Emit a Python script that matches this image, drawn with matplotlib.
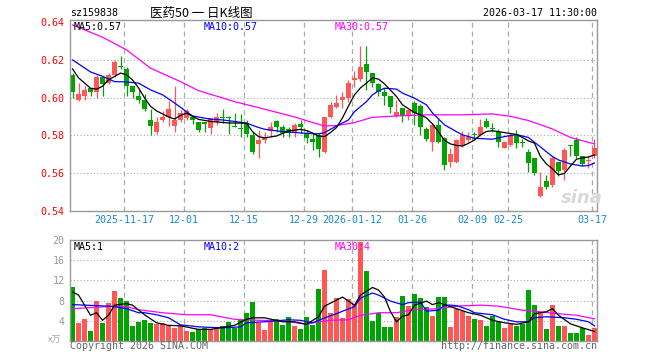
import numpy as np
import matplotlib
matplotlib.use("Agg")
import matplotlib.pyplot as plt

# daily candles (oldest first)
opens = [0.612, 0.599, 0.601, 0.605, 0.603, 0.611, 0.608, 0.612, 0.617, 0.615,
         0.606, 0.601, 0.599, 0.588, 0.582, 0.588, 0.590, 0.585, 0.588, 0.589,
         0.590, 0.587, 0.587, 0.584, 0.587, 0.590, 0.590, 0.5849, 0.584, 0.5865,
         0.580, 0.5755, 0.5776, 0.5825, 0.5877, 0.5843, 0.5833, 0.5815, 0.5861, 0.5812,
         0.578, 0.5803, 0.5714, 0.5896, 0.5953, 0.5988, 0.5997, 0.6094, 0.6098, 0.6179,
         0.613, 0.607, 0.6032, 0.6009, 0.5903, 0.5944, 0.5903, 0.5971, 0.5956, 0.5833,
         0.5767, 0.5856, 0.5785, 0.566, 0.566, 0.5744, 0.5774, 0.5805, 0.580, 0.5877,
         0.5835, 0.582, 0.5736, 0.575, 0.5803, 0.5762, 0.5714, 0.5679, 0.5479, 0.5561,
         0.5538, 0.5661, 0.5617, 0.5745, 0.5776, 0.5691, 0.5664, 0.5691]
highs = [0.613, 0.608, 0.606, 0.605, 0.612, 0.611, 0.613, 0.620, 0.622, 0.616,
         0.606, 0.604, 0.602, 0.594, 0.590, 0.593, 0.598, 0.606, 0.5935, 0.594,
         0.5905, 0.587, 0.587, 0.589, 0.592, 0.594, 0.5905, 0.592, 0.5915, 0.588,
         0.582, 0.583, 0.582, 0.587, 0.588, 0.5856, 0.5847, 0.5868, 0.5882, 0.5829,
         0.5815, 0.5815, 0.5896, 0.5975, 0.6015, 0.6032, 0.6094, 0.6143, 0.6274, 0.6274,
         0.613, 0.608, 0.605, 0.601, 0.5988, 0.5945, 0.594, 0.598, 0.5967, 0.5847,
         0.5865, 0.5886, 0.579, 0.5734, 0.578, 0.5825, 0.582, 0.582, 0.5886, 0.589,
         0.5865, 0.5833, 0.5773, 0.5812, 0.5829, 0.578, 0.5727, 0.568, 0.5608, 0.5591,
         0.5688, 0.5661, 0.5732, 0.5748, 0.5794, 0.5691, 0.5691, 0.578]
lows = [0.600, 0.598, 0.599, 0.601, 0.600, 0.601, 0.607, 0.611, 0.615, 0.601,
        0.600, 0.597, 0.593, 0.580, 0.581, 0.587, 0.585, 0.582, 0.587, 0.588,
        0.586, 0.582, 0.582, 0.581, 0.5855, 0.5865, 0.581, 0.5845, 0.579, 0.579,
        0.570, 0.568, 0.5762, 0.579, 0.582, 0.5794, 0.5794, 0.5794, 0.5812, 0.5759,
        0.5723, 0.5688, 0.5706, 0.589, 0.5946, 0.5944, 0.5979, 0.6059, 0.609, 0.6041,
        0.6055, 0.601, 0.596, 0.5918, 0.590, 0.5873, 0.5882, 0.5856, 0.580, 0.5773,
        0.5719, 0.5759, 0.5617, 0.5633, 0.5655, 0.5741, 0.5767, 0.5776, 0.5795, 0.584,
        0.582, 0.5741, 0.5732, 0.5744, 0.5732, 0.5739, 0.5608, 0.5591, 0.5473, 0.5515,
        0.5526, 0.5585, 0.5566, 0.569, 0.5679, 0.5638, 0.5626, 0.5679]
closes = [0.603, 0.602, 0.604, 0.603, 0.611, 0.607, 0.612, 0.619, 0.616, 0.606,
          0.603, 0.599, 0.594, 0.585, 0.587, 0.590, 0.594, 0.588, 0.592, 0.593,
          0.588, 0.583, 0.586, 0.589, 0.590, 0.589, 0.589, 0.5846, 0.5835, 0.581,
          0.5714, 0.5776, 0.5794, 0.5843, 0.5847, 0.5815, 0.5812, 0.5856, 0.5847, 0.5785,
          0.5767, 0.5727, 0.5896, 0.5962, 0.5971, 0.6006, 0.608, 0.6103, 0.6163, 0.6138,
          0.608, 0.603, 0.6011, 0.5949, 0.5926, 0.5903, 0.5935, 0.5918, 0.5845, 0.578,
          0.5856, 0.5765, 0.5644, 0.5702, 0.5776, 0.5803, 0.5794, 0.5803, 0.5847, 0.5847,
          0.5833, 0.5767, 0.5767, 0.5803, 0.5759, 0.576, 0.5653, 0.5603, 0.5526, 0.5526,
          0.5682, 0.5612, 0.5723, 0.5742, 0.5691, 0.5649, 0.5667, 0.5732]
# volume, in 万
volumes = [10.7, 3.6, 4.3, 1.9, 7.9, 3.6, 7.5, 9.9, 8.5, 7.9,
           3.0, 3.8, 4.1, 3.6, 3.4, 3.6, 3.2, 2.6, 3.1, 1.9,
           1.8, 2.3, 2.5, 2.3, 2.8, 3.0, 3.8, 2.5, 4.2, 5.6,
           7.7, 3.6, 2.1, 3.9, 4.4, 3.1, 4.7, 3.0, 2.3, 4.7,
           3.2, 10.3, 14.0, 5.6, 8.5, 4.6, 8.4, 7.4, 19.7, 13.8,
           4.0, 5.6, 2.7, 2.7, 4.8, 8.9, 6.9, 9.3, 8.5, 6.7,
           4.9, 8.7, 8.7, 2.7, 6.4, 5.9, 5.0, 4.4, 4.2, 2.9,
           4.9, 3.8, 2.5, 3.6, 2.9, 3.3, 10.1, 7.2, 5.8, 2.3,
           7.1, 2.9, 2.9, 1.6, 1.6, 2.5, 1.1, 2.5]

# moving averages (candle index, value)
ma5_idx = [0, 1, 3, 4, 5, 6, 8, 9, 10, 11, 12, 13, 14, 15, 16, 17, 18, 19, 20, 21,
           23, 26, 29, 30, 31, 32, 34, 36, 38, 39, 40, 41, 42, 43, 44, 45, 46, 47, 48, 49,
           50, 51, 52, 54, 55, 57, 58, 59, 60, 61, 62, 63, 64, 65, 66, 67, 68, 69, 70, 72,
           74, 75, 76, 77, 78, 79, 80, 81, 82, 83, 84, 85, 86, 87]
ma5_val = [0.6152, 0.6105, 0.605, 0.6045, 0.606, 0.6094, 0.613, 0.6121, 0.6094, 0.6052,
           0.5999, 0.5954, 0.593, 0.5914, 0.5898, 0.5887, 0.5906, 0.5918, 0.5901, 0.5885,
           0.5874, 0.5866, 0.5865, 0.582, 0.5794, 0.5787, 0.5797, 0.5824, 0.5832, 0.5826,
           0.5813, 0.5797, 0.5794, 0.5815, 0.5842, 0.5893, 0.5956, 0.6015, 0.6052, 0.6077,
           0.6105, 0.6098, 0.6073, 0.6006, 0.5962, 0.5921, 0.5909, 0.5893, 0.5861, 0.5819,
           0.5774, 0.5755, 0.5747, 0.5744, 0.5758, 0.5776, 0.5803, 0.5821, 0.5825, 0.5815,
           0.5805, 0.5789, 0.5771, 0.5759, 0.5688, 0.5649, 0.5623, 0.5591, 0.5599, 0.5638,
           0.5674, 0.5681, 0.5686, 0.5697]
ma10_idx = [0, 3, 5, 7, 9, 11, 13, 15, 17, 19, 20, 23, 25, 27, 29, 31, 32, 35, 39, 41,
            42, 44, 46, 47, 49, 50, 51, 52, 54, 55, 57, 59, 60, 62, 64, 65, 67, 70, 72, 74,
            76, 78, 80, 81, 83, 85, 86, 87]
ma10_val = [0.620, 0.6136, 0.6113, 0.6085, 0.6083, 0.6077, 0.6041, 0.6015, 0.5972, 0.5926,
            0.5903, 0.5886, 0.5882, 0.5874, 0.5865, 0.5842, 0.5833, 0.582, 0.5811, 0.5808,
            0.5815, 0.585, 0.5882, 0.5926, 0.5979, 0.6015, 0.6036, 0.605, 0.6045, 0.6024,
            0.5997, 0.5962, 0.5919, 0.5856, 0.582, 0.5803, 0.5785, 0.578, 0.5794, 0.5805,
            0.5789, 0.5739, 0.5688, 0.567, 0.5649, 0.5638, 0.5641, 0.5654]
ma30_idx = [0, 5, 9, 13, 18, 21, 27, 32, 37, 39, 42, 44, 47, 50, 54, 59, 65, 70, 73, 76,
            80, 83, 87]
ma30_val = [0.6385, 0.632, 0.6253, 0.6156, 0.6085, 0.6037, 0.5979, 0.5939, 0.5898, 0.5878,
            0.585, 0.5852, 0.5868, 0.5896, 0.5903, 0.5909, 0.5909, 0.5914, 0.5901, 0.5879,
            0.5834, 0.5789, 0.5755]

vma5_idx = [0, 1, 3, 4, 5, 6, 7, 9, 10, 12, 14, 16, 18, 21, 23, 27, 29, 30, 32, 35,
            37, 39, 41, 42, 43, 45, 47, 48, 50, 51, 52, 53, 54, 55, 56, 57, 59, 60, 61, 62,
            64, 66, 68, 70, 72, 74, 76, 77, 79, 80, 81, 83, 85, 87]
vma5_val = [9.7, 9.1, 5.1, 5.6, 4.1, 5.1, 7.1, 7.4, 7.1, 5.2, 3.6, 3.1, 3.0, 2.3, 2.3, 3.1,
            4.3, 4.6, 4.6, 3.8, 3.8, 3.3, 4.8, 6.9, 7.5, 8.7, 7.1, 9.1, 10.6, 10.1, 8.7, 5.8,
            3.8, 4.9, 5.2, 7.1, 7.9, 7.2, 7.6, 7.2, 6.4, 5.6, 5.1, 4.1, 3.6, 3.3, 3.8, 5.4,
            5.8, 6.4, 5.1, 3.4, 2.6, 1.9]
vma10_idx = [0, 6, 7, 9, 11, 12, 14, 16, 18, 21, 25, 28, 29, 32, 36, 38, 40, 41, 43, 44,
             45, 47, 48, 50, 51, 53, 55, 56, 58, 59, 61, 62, 63, 64, 66, 67, 70, 72, 74, 76,
             77, 79, 82, 84, 86, 87]
vma10_val = [7.2, 6.9, 6.8, 6.4, 5.6, 5.6, 5.2, 4.6, 3.2, 2.8, 2.6, 2.8, 3.6, 3.8, 4.2, 4.1,
             3.6, 4.1, 5.0, 5.4, 5.9, 6.8, 8.5, 9.5, 9.1, 7.9, 7.2, 7.6, 7.7, 5.9, 6.1, 7.1,
             7.1, 7.0, 6.2, 5.6, 5.2, 4.3, 3.8, 3.8, 4.6, 4.8, 4.6, 4.3, 3.8, 3.0]
vma30_idx = [0, 7, 9, 11, 15, 19, 23, 27, 31, 35, 39, 41, 43, 46, 48, 50, 51, 54, 57, 61,
             64, 68, 71, 75, 77, 81, 84, 87]
vma30_val = [6.4, 6.9, 6.8, 6.2, 5.6, 5.2, 5.2, 4.3, 4.1, 4.0, 3.3, 3.8, 4.1, 4.2, 5.1, 5.4,
             5.6, 5.6, 6.2, 6.4, 6.9, 7.1, 6.9, 6.1, 5.9, 5.4, 5.1, 4.4]

# date ticks: candle index -> label
date_idx = [9, 19, 29, 39, 47, 57, 67, 73, 87]
date_lbl = ["2025-11-17", "12-01", "12-15", "12-29", "2026-01-12",
            "01-26", "02-09", "02-25", "03-17"]
price_ticks = [0.54, 0.56, 0.58, 0.60, 0.62, 0.64]
vol_ticks = [4, 8, 12, 16, 20]

RED = "#ff5656"
GREEN = "#00a400"
GRID = "#aaaaaa"
MONO = "DejaVu Sans Mono"
CJK = ["Noto Sans CJK SC", "DejaVu Sans"]
W, H = 660, 360


def box(l, t, r, b):
    return [l / W, 1 - b / H, (r - l) / W, (b - t) / H]


def ftext(x, y, s, **kw):
    kw.setdefault("family", MONO)
    kw.setdefault("fontsize", 7.2)
    kw.setdefault("va", "center")
    fig.text(x / W, 1 - y / H, s, **kw)


o = np.array(opens)
c = np.array(closes)
x = np.arange(len(c))
cols = np.where(c >= o, RED, GREEN)

fig = plt.figure(figsize=(6.6, 3.6), dpi=100)
ax = fig.add_axes(box(70, 20, 597, 211))
axv = fig.add_axes(box(70, 240, 597, 341))

for a in (ax, axv):
    a.set_xlim(-0.42, 87.42)
    for s in a.spines.values():
        s.set_color("#999999")
        s.set_linewidth(1.0)
    for i in date_idx:
        a.axvline(i - 0.42, color=GRID, lw=0.9, ls=(0, (4, 3)), zorder=0)
    a.tick_params(length=0)

# price panel
ax.set_ylim(0.54, 0.6411)
for p in price_ticks[1:-1]:
    ax.axhline(p, color=GRID, lw=0.8, ls=(0, (1, 2)), zorder=0)
ax.vlines(x, lows, highs, colors=cols, lw=0.9, zorder=2)
ax.bar(x, np.maximum(np.abs(c - o), 0.0006), bottom=np.minimum(o, c),
       width=0.82, color=cols, linewidth=0, zorder=2)
ax.plot(ma30_idx, ma30_val, color="#ff00ff", lw=0.9, zorder=3)
ax.plot(ma10_idx, ma10_val, color="#0000ff", lw=0.9, zorder=3)
ax.plot(ma5_idx, ma5_val, color="black", lw=0.9, zorder=4)
ax.set_yticks(price_ticks)
ax.set_yticklabels([f"{p:.2f}" for p in price_ticks], family=MONO, fontsize=7.2, color="red")
ax.tick_params(axis="y", pad=4)
ax.set_xticks([i - 0.42 for i in date_idx])
ax.set_xticklabels(date_lbl, family=MONO, fontsize=7.2, color="#1a88d0")
ax.tick_params(axis="x", pad=3)

# volume panel
axv.set_ylim(0, 20)
for v in vol_ticks[:-1]:
    axv.axhline(v, color=GRID, lw=0.8, ls=(0, (1, 2)), zorder=0)
axv.bar(x, volumes, width=0.82, color=cols, linewidth=0, zorder=2)
axv.plot(vma30_idx, vma30_val, color="#ff00ff", lw=0.9, zorder=3)
axv.plot(vma10_idx, vma10_val, color="#0000ff", lw=0.9, zorder=3)
axv.plot(vma5_idx, vma5_val, color="black", lw=0.9, zorder=4)
axv.set_yticks(vol_ticks)
axv.set_yticklabels([str(v) for v in vol_ticks], family=MONO, fontsize=7.2, color="#999999")
axv.tick_params(axis="y", pad=4)
axv.set_xticks([])

# header and legends
ftext(70, 13, "sz159838")
ftext(150, 13, "医药50 一 日K线图", family=CJK, fontsize=9)
ftext(597, 13, "2026-03-17 11:30:00", ha="right")
ftext(74, 27, "MA5:0.57", color="black")
ftext(204, 27, "MA10:0.57", color="#0000ff")
ftext(335, 27, "MA30:0.57", color="#ff00ff")
ftext(74, 247, "MA5:1", color="black")
ftext(204, 247, "MA10:2", color="#0000ff")
ftext(335, 247, "MA30:4", color="#ff00ff")
ftext(48, 340, "x万", family=CJK, fontsize=6.5, color="#aaaaaa", style="italic")
ftext(70, 346, "Copyright 2026 SINA.COM", color="#666666")
ftext(597, 346, "http://finance.sina.com.cn", ha="right", color="#666666")
ftext(582, 198, "sina", family="DejaVu Sans", fontsize=13, weight="bold",
      style="italic", color="#d8d8d8", ha="center", zorder=1)

fig.savefig("out.png", dpi=100)
